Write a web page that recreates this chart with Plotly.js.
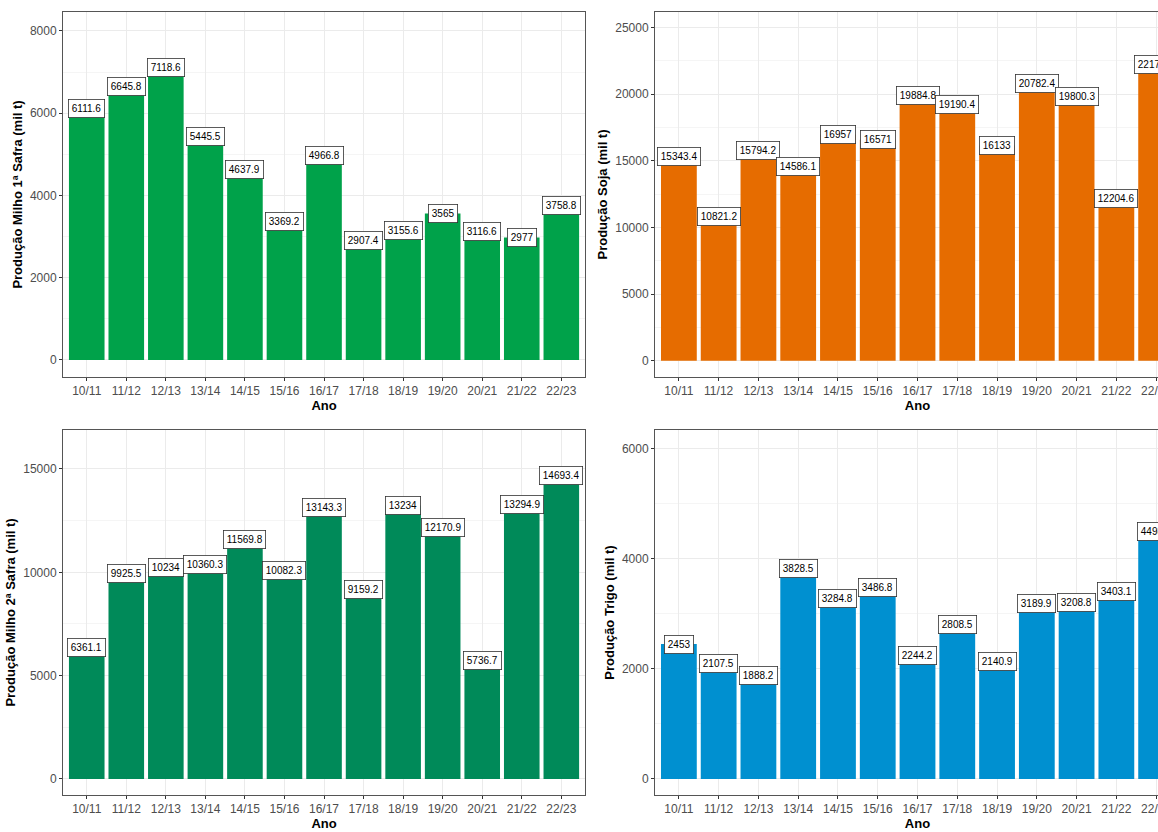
<!DOCTYPE html>
<html>
<head>
<meta charset="utf-8">
<script src="https://cdn.plot.ly/plotly-3.0.1.min.js"></script>
<style>body{margin:0;overflow:hidden;background:#fff}</style>
</head>
<body>
<div id="chart"></div>
<script>
const anos = ['10/11','11/12','12/13','13/14','14/15','15/16','16/17','17/18','18/19','19/20','20/21','21/22','22/23'];
const milho1 = [6111.6, 6645.8, 7118.6, 5445.5, 4637.9, 3369.2, 4966.8, 2907.4, 3155.6, 3565, 3116.6, 2977, 3758.8];
const soja = [15343.4, 10821.2, 15794.2, 14586.1, 16957, 16571, 19884.8, 19190.4, 16133, 20782.4, 19800.3, 12204.6, 22176.5];
const milho2 = [6361.1, 9925.5, 10234, 10360.3, 11569.8, 10082.3, 13143.3, 9159.2, 13234, 12170.9, 5736.7, 13294.9, 14693.4];
const trigo = [2453, 2107.5, 1888.2, 3828.5, 3284.8, 3486.8, 2244.2, 2808.5, 2140.9, 3189.9, 3208.8, 3403.1, 4498.8];

const panels = [
  {y: milho1, color: '#00A24A', title: 'Produção Milho 1ª Safra (mil t)', range: [-413, 8462], dtick: 2000, xa: 'x', ya: 'y'},
  {y: soja, color: '#E66C00', title: 'Produção Soja (mil t)', range: [-1208, 26148], dtick: 5000, xa: 'x2', ya: 'y2'},
  {y: milho2, color: '#008A59', title: 'Produção Milho 2ª Safra (mil t)', range: [-774, 16887], dtick: 5000, xa: 'x3', ya: 'y3'},
  {y: trigo, color: '#0090D0', title: 'Produção Trigo (mil t)', range: [-291, 6345], dtick: 2000, xa: 'x4', ya: 'y4'}
];

const xdom = [[0.0534, 0.4958], [0.5551, 1.0]];
const ydom = [[0.5469, 0.9856], [0.0445, 0.4832]];

const data = [];
const annotations = [];
const layout = {
  width: 1180, height: 832,
  margin: {l: 0, r: 0, t: 0, b: 0},
  paper_bgcolor: '#fff', plot_bgcolor: '#fff',
  showlegend: false, bargap: 0.1,
  font: {family: 'Liberation Sans, Arial, sans-serif', color: '#000'}
};

panels.forEach((p, i) => {
  data.push({type: 'bar', x: anos, y: p.y, marker: {color: p.color}, xaxis: p.xa, yaxis: p.ya});
  p.y.forEach((v, j) => annotations.push({
    xref: p.xa, yref: p.ya, x: anos[j], y: v, text: String(v), showarrow: false,
    bgcolor: '#fff', bordercolor: '#333', borderwidth: 0.8, borderpad: 3,
    font: {size: 10, color: '#000'}
  }));
  const sfx = i === 0 ? '' : String(i + 1);
  const axBase = {
    showline: true, mirror: true, linecolor: '#555', linewidth: 1,
    gridcolor: '#ebebeb', ticks: 'outside', ticklen: 3, tickcolor: '#333',
    tickfont: {size: 12, color: '#4d4d4d'}, zeroline: false
  };
  layout['xaxis' + sfx] = Object.assign({}, axBase, {
    domain: xdom[i % 2], anchor: p.ya, range: [-0.6, 12.6],
    title: {text: '<b>Ano</b>', font: {size: 13}, standoff: 2}
  });
  layout['yaxis' + sfx] = Object.assign({}, axBase, {
    domain: ydom[Math.floor(i / 2)], anchor: p.xa, range: p.range, dtick: p.dtick,
    tickformat: 'd',
    minor: {showgrid: true, gridcolor: '#f5f5f5', dtick: p.dtick / 2},
    title: {text: '<b>' + p.title + '</b>', font: {size: 13}, standoff: 4}
  });
});
layout.annotations = annotations;

Plotly.newPlot('chart', data, layout, {displayModeBar: false, staticPlot: true});
</script>
</body>
</html>
